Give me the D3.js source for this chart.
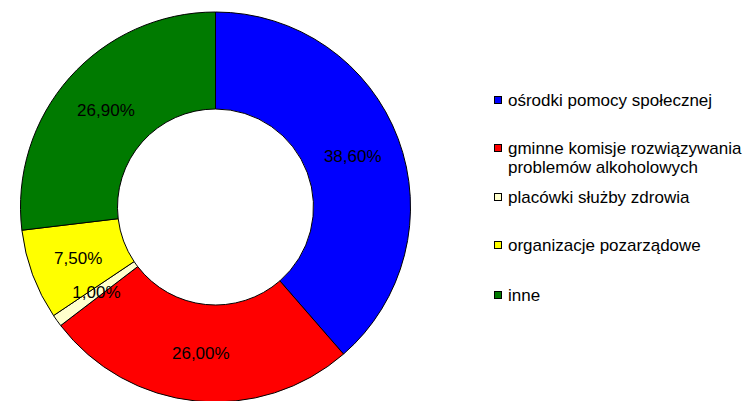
<!DOCTYPE html>
<html>
<head>
<meta charset="utf-8">
<script src="https://cdn.jsdelivr.net/npm/d3@7/dist/d3.min.js"></script>
<style>
  body { margin: 0; background: #fff; }
  text { font-family: "Liberation Sans", Arial, sans-serif; }
</style>
</head>
<body>
<div id="chart"></div>
<script>
const categories = ['ośrodki pomocy społecznej', 'gminne komisje rozwiązywania problemów alkoholowych',
                    'placówki służby zdrowia', 'organizacje pozarządowe', 'inne'];
const values = [38.6, 26.0, 1.0, 7.5, 26.9];
const valueLabels = ['38,60%', '26,00%', '1,00%', '7,50%', '26,90%'];
const legendLines = [['ośrodki pomocy społecznej'], ['gminne komisje rozwiązywania', 'problemów alkoholowych'],
                     ['placówki służby zdrowia'], ['organizacje pozarządowe'], ['inne']];
const colors = ['#0000ff', '#ff0000', '#ffffcc', '#ffff00', '#007a00'];

const width = 749, height = 401;
const cx = 215.5, cy = 207, outerR = 195, innerR = 98;

const svg = d3.select('#chart')
              .append('svg')
              .attr('width', width)
              .attr('height', height);

const pie = d3.pie().sort(null).value(d => d);
const arc = d3.arc().innerRadius(innerR).outerRadius(outerR);
// labels sit on the middle of the ring
const midR = (innerR + outerR) / 2;
const labelArc = d3.arc().innerRadius(midR).outerRadius(midR);

const g = svg.append('g').attr('transform', `translate(${cx},${cy})`);
const arcs = pie(values);

g.selectAll('path')
  .data(arcs)
  .enter()
  .append('path')
  .attr('d', arc)
  .attr('fill', (d, i) => colors[i])
  .attr('stroke', '#000')
  .attr('stroke-width', 1);

g.selectAll('text.lbl')
  .data(arcs)
  .enter()
  .append('text')
  .attr('class', 'lbl')
  .attr('transform', d => `translate(${labelArc.centroid(d)})`)
  .attr('text-anchor', 'middle')
  .attr('dy', '0.35em')
  .style('font-size', '17px')
  .text((d, i) => valueLabels[i]);

// legend
const legendY = [100, 148, 197, 245, 295];
const legend = svg.append('g');
legendLines.forEach((lines, i) => {
  legend.append('rect')
    .attr('x', 494.5).attr('y', legendY[i] - 3.5)
    .attr('width', 7).attr('height', 7)
    .attr('fill', colors[i]).attr('stroke', '#000');
  lines.forEach((t, j) => {
    legend.append('text')
      .attr('x', 508).attr('y', legendY[i] + j * 19)
      .attr('dy', '0.35em')
      .style('font-size', '17px')
      .text(t);
  });
});
</script>
</body>
</html>
